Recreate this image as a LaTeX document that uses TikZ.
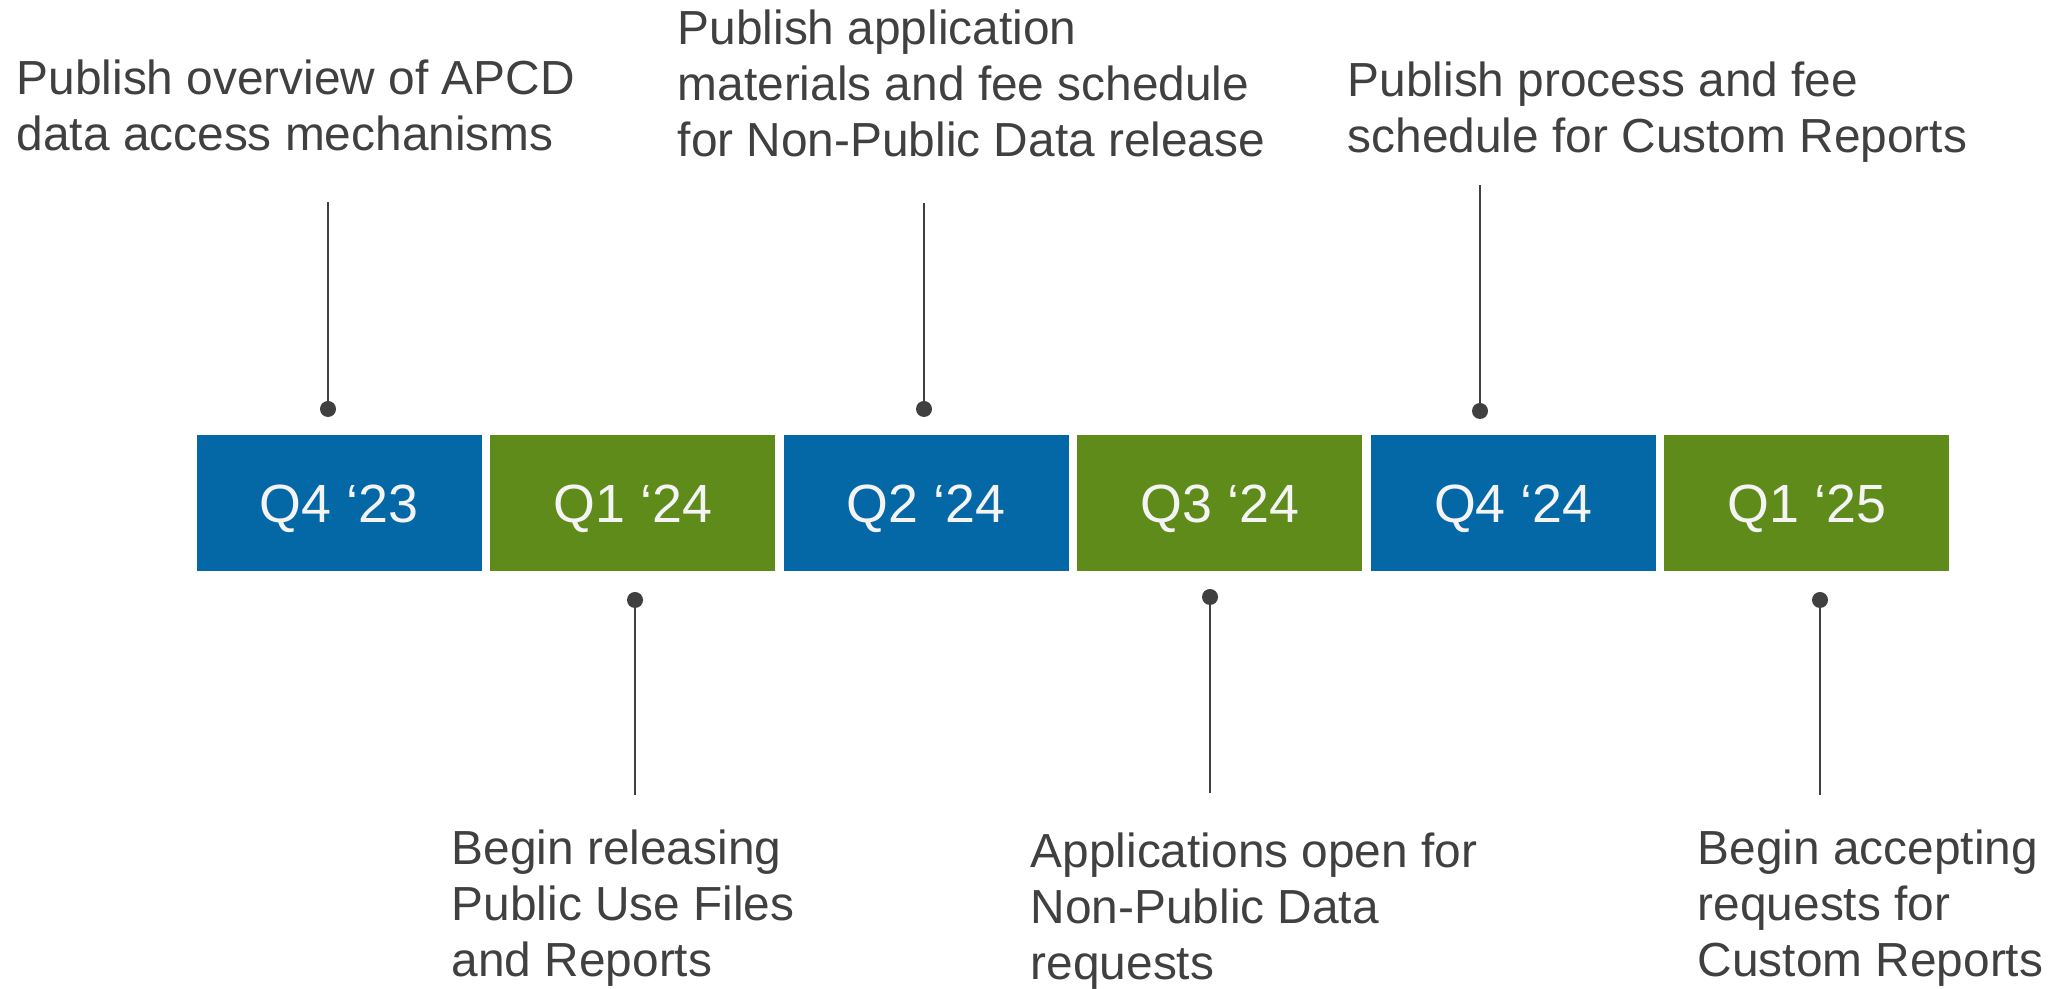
\documentclass[tikz,border=0pt]{standalone}
\usepackage{fontspec}
\setmainfont{Liberation Sans}
\definecolor{qblue}{HTML}{0568A6}
\definecolor{qgreen}{HTML}{5E8B1A}
\definecolor{ink}{HTML}{404040}
\definecolor{qwhite}{HTML}{F4F4F4}
\begin{document}
\begin{tikzpicture}[x=0.01cm,y=-0.01cm,
  qbox/.style={rectangle,inner sep=0pt,minimum width=2.845cm,minimum height=1.36cm,
    text=qwhite,font=\fontsize{15.3}{18}\selectfont,text height=10.95pt,text depth=0pt},
  bluebox/.style={qbox,fill=qblue},
  greenbox/.style={qbox,fill=qgreen},
  dot/.style={circle,fill=ink,inner sep=0pt,minimum size=0.16cm},
  note/.style={anchor=base west,inner sep=0pt,align=left,text=ink,
    font=\fontsize{13.6}{15.93}\selectfont},
  stem/.style={draw=ink,line width=0.65pt}]
\useasboundingbox (0,0) rectangle (2057,989);

% quarter boxes
\node[bluebox]  (b1) at (339.25,503) {Q4 ‘23};
\node[greenbox] (b2) at (632.75,503) {Q1 ‘24};
\node[bluebox]  (b3) at (926.25,503) {Q2 ‘24};
\node[greenbox] (b4) at (1219.75,503) {Q3 ‘24};
\node[bluebox]  (b5) at (1513.25,503) {Q4 ‘24};
\node[greenbox] (b6) at (1806.75,503) {Q1 ‘25};

% dots
\node[dot] (d1) at (328,409) {};
\node[dot] (d2) at (635,600) {};
\node[dot] (d3) at (924,409) {};
\node[dot] (d4) at (1210,597) {};
\node[dot] (d5) at (1480,411) {};
\node[dot] (d6) at (1820,600) {};

% stem ends
\coordinate (e1) at (328,202);
\coordinate (e2) at (635,795);
\coordinate (e3) at (924,203);
\coordinate (e4) at (1210,793);
\coordinate (e5) at (1480,185);
\coordinate (e6) at (1820,795);

\draw[stem] (d1.center) -- (e1);
\draw[stem] (d2.center) -- (e2);
\draw[stem] (d3.center) -- (e3);
\draw[stem] (d4.center) -- (e4);
\draw[stem] (d5.center) -- (e5);
\draw[stem] (d6.center) -- (e6);

% notes (anchored at the baseline of their last line)
\node[note] (t1) at (16,151) {Publish overview of APCD\\data access mechanisms};
\node[note] (t3) at (677,157) {Publish application\\materials and fee schedule\\for Non-Public Data release};
\node[note] (t5) at (1347,153) {Publish process and fee\\schedule for Custom Reports};
\node[note] (t2) at (451,977) {Begin releasing\\Public Use Files\\and Reports};
\node[note] (t4) at (1030,980) {Applications open for\\Non-Public Data\\requests};
\node[note] (t6) at (1697,977) {Begin accepting\\requests for\\Custom Reports};
\end{tikzpicture}
\end{document}
